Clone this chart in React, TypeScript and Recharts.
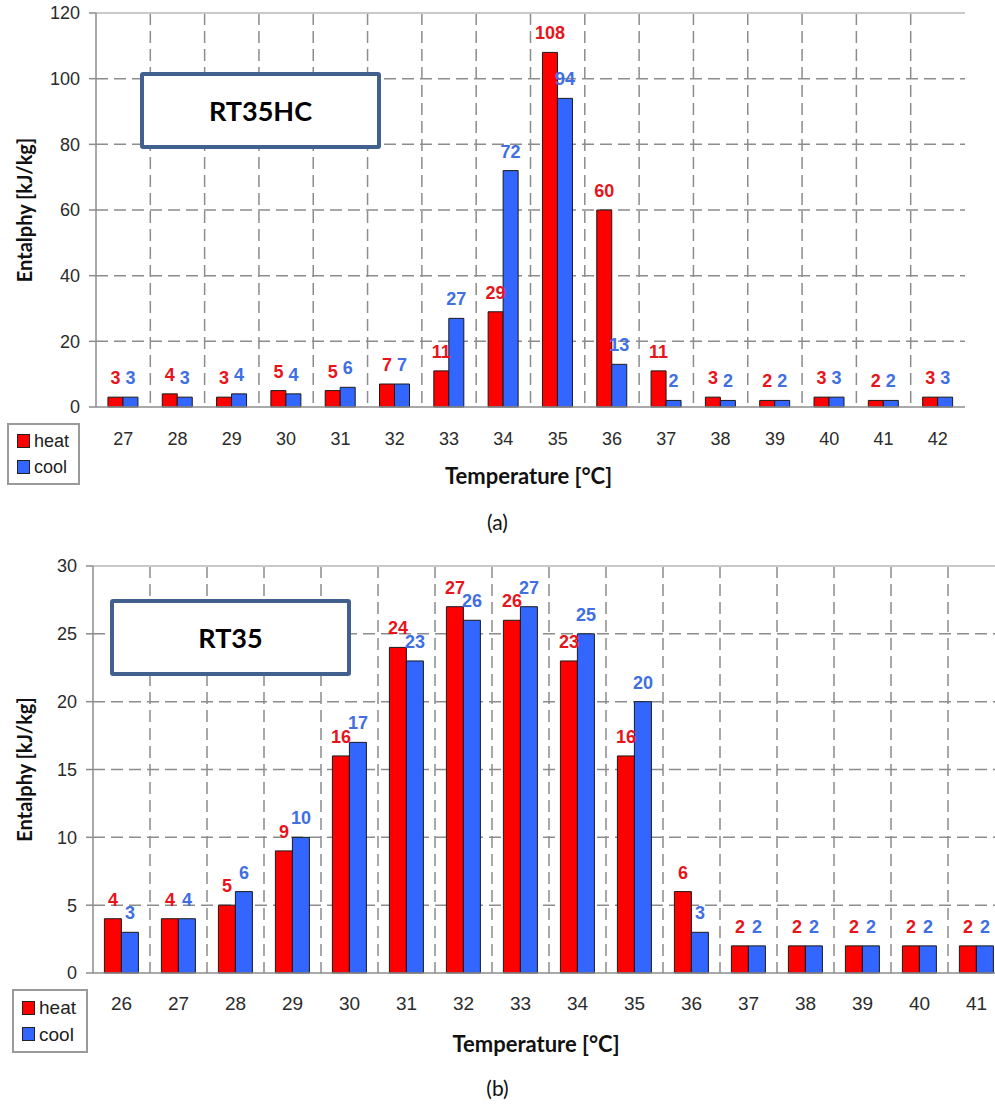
import { BarChart, Bar, XAxis, YAxis, CartesianGrid, ReferenceLine, LabelList, Legend } from 'recharts'

// panel (a) RT35HC
const tempsA = ['27', '28', '29', '30', '31', '32', '33', '34', '35', '36', '37', '38', '39', '40', '41', '42']
const heatA = [3, 4, 3, 5, 5, 7, 11, 29, 108, 60, 11, 3, 2, 3, 2, 3]
const coolA = [3, 3, 4, 4, 6, 7, 27, 72, 94, 13, 2, 2, 2, 3, 2, 3]
const yTicksA = [0, 20, 40, 60, 80, 100, 120]

// panel (b) RT35
const tempsB = ['26', '27', '28', '29', '30', '31', '32', '33', '34', '35', '36', '37', '38', '39', '40', '41']
const heatB = [4, 4, 5, 9, 16, 24, 27, 26, 23, 16, 6, 2, 2, 2, 2, 2]
const coolB = [3, 4, 6, 10, 17, 23, 26, 27, 25, 20, 3, 2, 2, 2, 2, 2]
const yTicksB = [0, 5, 10, 15, 20, 25, 30]

const ARIAL = '"Liberation Sans", Arial, sans-serif'
const CALIBRI = 'Lato, "Open Sans", sans-serif'
const GRID = '#8c8c8c'
const RED = '#ff0000'
const BLUE = '#3366ff'
const RED_TXT = '#e8141c'
const BLUE_TXT = '#3f6fe2'

interface LegendBoxProps {
  left: number
  top: number
  width: number
  height: number
  fontSize: number
}

function legendContent({ width, height, fontSize }: LegendBoxProps) {
  const items = [
    { name: 'heat', color: RED },
    { name: 'cool', color: BLUE },
  ]
  return (
    <div
      style={{
        width,
        height,
        boxSizing: 'border-box',
        border: '2px solid #9a9a9a',
        background: '#fff',
        display: 'flex',
        flexDirection: 'column',
        justifyContent: 'space-evenly',
        paddingLeft: 8,
        fontFamily: ARIAL,
        fontSize,
        color: '#222',
      }}
    >
      {items.map((it) => (
        <div key={it.name} style={{ display: 'flex', alignItems: 'center', gap: 4, lineHeight: 1 }}>
          <span style={{ width: 11, height: 12, background: it.color, border: '1px solid #222', display: 'inline-block' }} />
          <span>{it.name}</span>
        </div>
      ))}
    </div>
  )
}

interface PanelProps {
  temps: string[]
  heat: number[]
  cool: number[]
  yTicks: number[]
  width: number
  height: number
  bottom: number
  yAxisWidth: number
  catHeight: number
  catGap: string
  tickGap: number
  tickFont: number
  titleDx: number
  legend: LegendBoxProps
}

function EnthalpyPanel(p: PanelProps) {
  const { temps, heat, cool, yTicks, legend } = p
  const data = temps.map((t, i) => ({ t, heat: heat[i], cool: cool[i] }))
  const n = temps.length
  const bounds = Array.from({ length: n + 1 }, (_, i) => i)
  const yMax = yTicks[yTicks.length - 1]

  return (
    <BarChart
      width={p.width}
      height={p.height}
      data={data}
      margin={{ top: 13, right: 30, left: 0, bottom: p.bottom }}
      barCategoryGap={p.catGap}
      barGap={0}
    >
      <CartesianGrid
        stroke={GRID}
        strokeWidth={1.5}
        strokeDasharray="12 6"
        verticalCoordinatesGenerator={({ offset }: any) =>
          bounds.slice(1, n).map((i) => offset.left + (offset.width * i) / n)
        }
        horizontalValues={yTicks.slice(1, yTicks.length - 1)}
      />
      <XAxis
        xAxisId="a_grid"
        type="number"
        domain={[0, n]}
        ticks={bounds}
        allowDataOverflow
        tick={false}
        tickSize={8}
        height={8}
        stroke={GRID}
        strokeWidth={1.5}
      />
      <XAxis
        xAxisId="b_cat"
        dataKey="t"
        axisLine={false}
        tickLine={false}
        tickSize={0}
        tickMargin={p.tickGap}
        height={p.catHeight}
        interval={0}
        tick={{ fontSize: p.tickFont, fill: '#2b2b2b', fontFamily: ARIAL }}
        label={{
          value: 'Temperature [°C]',
          position: 'insideBottom',
          offset: 1,
          dx: p.titleDx,
          style: { fontSize: 22, fontWeight: 700, fill: '#111', fontFamily: CALIBRI },
        }}
      />
      <YAxis
        width={p.yAxisWidth}
        domain={[0, yMax]}
        ticks={yTicks}
        interval={0}
        stroke={GRID}
        strokeWidth={1.5}
        tickSize={7}
        tickMargin={9}
        tick={{ fontSize: 18, fill: '#2b2b2b', fontFamily: ARIAL }}
        label={{
          value: 'Entalphy [kJ/kg]',
          angle: -90,
          position: 'insideLeft',
          offset: 25,
          style: { textAnchor: 'middle', fontSize: 20, fontWeight: 700, fill: '#111', fontFamily: CALIBRI },
        }}
      />
      <ReferenceLine y={yMax} xAxisId="b_cat" stroke="#c9c9c9" strokeWidth={2} />
      <ReferenceLine x={n} xAxisId="a_grid" stroke="#c9c9c9" strokeWidth={2} />
      <Legend
        layout="horizontal"
        verticalAlign="middle"
        wrapperStyle={{ left: legend.left, top: legend.top, width: legend.width, height: legend.height }}
        content={() => legendContent(legend)}
      />
      <Bar dataKey="heat" xAxisId="b_cat" fill={RED} stroke="#1a1a1a" strokeWidth={1} isAnimationActive={false}>
        <LabelList dataKey="heat" position="top" offset={13} fill={RED_TXT} fontSize={18} fontWeight={700} fontFamily={ARIAL} />
      </Bar>
      <Bar dataKey="cool" xAxisId="b_cat" fill={BLUE} stroke="#1a1a1a" strokeWidth={1} isAnimationActive={false}>
        <LabelList dataKey="cool" position="top" offset={13} fill={BLUE_TXT} fontSize={18} fontWeight={700} fontFamily={ARIAL} />
      </Bar>
    </BarChart>
  )
}

const nameBox = (text: string, left: number, top: number) => (
  <div
    style={{
      position: 'absolute',
      left,
      top,
      width: 241,
      height: 77,
      boxSizing: 'border-box',
      border: '4px solid #41608e',
      borderRadius: 3,
      background: '#fff',
      display: 'flex',
      alignItems: 'center',
      justifyContent: 'center',
      fontFamily: CALIBRI,
      fontWeight: 700,
      fontSize: 27,
      color: '#000',
    }}
  >
    {text}
  </div>
)

const caption = (text: string, top: number) => (
  <div
    style={{
      position: 'absolute',
      left: 0,
      top,
      width: 995,
      textAlign: 'center',
      fontFamily: CALIBRI,
      fontSize: 21,
      color: '#111',
    }}
  >
    {text}
  </div>
)

export default function App() {
  return (
    <div style={{ position: 'absolute', left: 0, top: 0, width: 995, height: 1108, overflow: 'hidden', background: '#fff' }}>
      <div style={{ position: 'absolute', left: 0, top: 0 }}>
        <EnthalpyPanel
          temps={tempsA}
          heat={heatA}
          cool={coolA}
          yTicks={yTicksA}
          width={995}
          height={500}
          bottom={15}
          yAxisWidth={96}
          catHeight={70}
          catGap="22%"
          tickGap={17}
          tickFont={18}
          titleDx={-2}
          legend={{ left: 7, top: 423, width: 73, height: 62, fontSize: 18 }}
        />
      </div>
      {nameBox('RT35HC', 140, 72)}
      {caption('(a)', 509)}
      <div style={{ position: 'absolute', left: 0, top: 553 }}>
        <EnthalpyPanel
          temps={tempsB}
          heat={heatB}
          cool={coolB}
          yTicks={yTicksB}
          width={1035}
          height={505}
          bottom={5}
          yAxisWidth={93}
          catHeight={72}
          catGap="20%"
          tickGap={16}
          tickFont={19}
          titleDx={-13}
          legend={{ left: 12, top: 436, width: 76, height: 64, fontSize: 19 }}
        />
      </div>
      {nameBox('RT35', 110, 599)}
      {caption('(b)', 1075)}
    </div>
  )
}
